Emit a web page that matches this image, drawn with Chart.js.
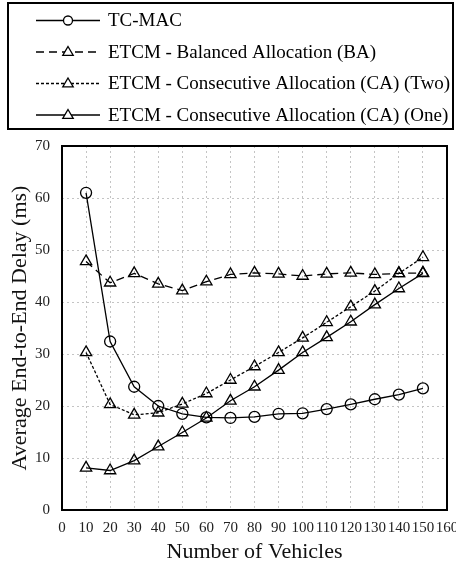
<!DOCTYPE html>
<html>
<head>
<meta charset="utf-8">
<script src="https://cdn.jsdelivr.net/npm/chart.js@4"></script>
<style>
  html, body { margin: 0; padding: 0; background: #fff; }
  #wrap { width: 456px; height: 566px; }
</style>
</head>
<body>
<div id="wrap"><canvas id="myChart"></canvas></div>
<script>
const vehicles = [10, 20, 30, 40, 50, 60, 70, 80, 90, 100, 110, 120, 130, 140, 150];
const tcMac = [61.0, 32.4, 23.7, 20.0, 18.5, 17.8, 17.7, 17.9, 18.5, 18.6, 19.4, 20.3, 21.3, 22.2, 23.4];
const etcmBA = [47.8, 43.7, 45.5, 43.5, 42.2, 43.9, 45.3, 45.6, 45.4, 45.0, 45.4, 45.6, 45.3, 45.5, 45.6];
const etcmCATwo = [30.3, 20.3, 18.3, 18.7, 20.4, 22.4, 25.0, 27.6, 30.3, 33.1, 36.1, 39.1, 42.1, 45.5, 48.6];
const etcmCAOne = [8.1, 7.6, 9.5, 12.2, 14.9, 17.7, 21.0, 23.7, 26.9, 30.3, 33.2, 36.2, 39.5, 42.6, 45.5];
const seriesNames = [
  'TC-MAC',
  'ETCM - Balanced Allocation (BA)',
  'ETCM - Consecutive Allocation (CA) (Two)',
  'ETCM - Consecutive Allocation (CA) (One)',
];

const serif = '"Liberation Serif", "Times New Roman", serif';

function pts(values) {
  return vehicles.map((v, i) => ({ x: v, y: values[i] }));
}

function series(label, values, dash, pointStyle) {
  return {
    label: label,
    data: pts(values),
    borderColor: '#000',
    borderWidth: 1.3,
    borderDash: dash,
    pointStyle: pointStyle,
    pointRadius: pointStyle === 'circle' ? 5.5 : 6.5,
    pointBorderWidth: 1.3,
    pointBorderColor: '#000',
    pointBackgroundColor: 'rgba(0,0,0,0)',
    tension: 0,
  };
}

// frame around plot and boxed legend
const framePlugin = {
  id: 'frame',
  beforeDatasetsDraw(chart) {
    const { ctx, chartArea: a } = chart;
    ctx.save();
    ctx.strokeStyle = '#000';
    ctx.lineWidth = 2;
    ctx.strokeRect(a.left, a.top, a.right - a.left, a.bottom - a.top);
    ctx.restore();
  },
  afterDraw(chart) {
    const ctx = chart.ctx;
    ctx.save();
    ctx.strokeStyle = '#000';
    ctx.lineWidth = 2;
    ctx.strokeRect(8, 3, 445, 126);
    const rows = [20.5, 52, 83.5, 115];
    chart.data.datasets.forEach((ds, i) => {
      const y = rows[i];
      ctx.lineWidth = ds.borderWidth;
      ctx.setLineDash(ds.borderDash || []);
      ctx.beginPath();
      ctx.moveTo(36, y);
      ctx.lineTo(100, y);
      ctx.stroke();
      ctx.setLineDash([]);
      ctx.fillStyle = '#fff';
      ctx.beginPath();
      if (ds.pointStyle === 'circle') {
        ctx.arc(68, y, 4.5, 0, Math.PI * 2);
      } else {
        const r = 5.5;
        ctx.moveTo(68, y - r);
        ctx.lineTo(68 + r * 0.95, y + r * 0.6);
        ctx.lineTo(68 - r * 0.95, y + r * 0.6);
        ctx.closePath();
      }
      ctx.fill();
      ctx.stroke();
      ctx.fillStyle = '#000';
      ctx.font = '19px ' + serif;
      ctx.textBaseline = 'middle';
      ctx.fillText(ds.label, 108, y + 1);
    });
    ctx.restore();
  },
};

const ctx = document.getElementById('myChart').getContext('2d');

new Chart(ctx, {
  type: 'line',
  data: {
    datasets: [
      series(seriesNames[0], tcMac, [], 'circle'),
      series(seriesNames[1], etcmBA, [8, 5], 'triangle'),
      series(seriesNames[2], etcmCATwo, [3, 2], 'triangle'),
      series(seriesNames[3], etcmCAOne, [], 'triangle'),
    ],
  },
  options: {
    responsive: true,
    maintainAspectRatio: false,
    animation: false,
    layout: {
      padding: { top: 146, left: 0, right: 9, bottom: 0 },
    },
    plugins: {
      legend: { display: false },
      tooltip: { enabled: false },
    },
    scales: {
      x: {
        type: 'linear',
        min: 0,
        max: 160,
        afterFit(scale) {
          scale.height = 56;
          scale.paddingLeft = 0;
          scale.paddingRight = 0;
        },
        ticks: {
          stepSize: 10,
          autoSkip: false,
          maxRotation: 0,
          minRotation: 0,
          padding: 9,
          color: '#222',
          font: { family: serif, size: 15 },
        },
        grid: {
          color: '#c4c4c4',
          lineWidth: 1,
          drawTicks: false,
        },
        border: { display: false, dash: [2, 3] },
        title: {
          display: true,
          text: 'Number of Vehicles',
          color: '#111',
          font: { family: serif, size: 22, lineHeight: 1.2 },
          padding: { top: 0, bottom: 1 },
        },
      },
      y: {
        min: 0,
        max: 70,
        afterFit(scale) {
          scale.width = 62;
          scale.paddingTop = 0;
          scale.paddingBottom = 0;
        },
        ticks: {
          stepSize: 10,
          padding: 12,
          color: '#222',
          font: { family: serif, size: 15 },
        },
        grid: {
          color: '#c4c4c4',
          lineWidth: 1,
          drawTicks: false,
        },
        border: { display: false, dash: [2, 3] },
        title: {
          display: true,
          text: 'Average End-to-End Delay (ms)',
          color: '#111',
          font: { family: serif, size: 22, lineHeight: 1.2 },
          padding: { top: 7, bottom: 0 },
        },
      },
    },
  },
  plugins: [framePlugin],
});
</script>
</body>
</html>
